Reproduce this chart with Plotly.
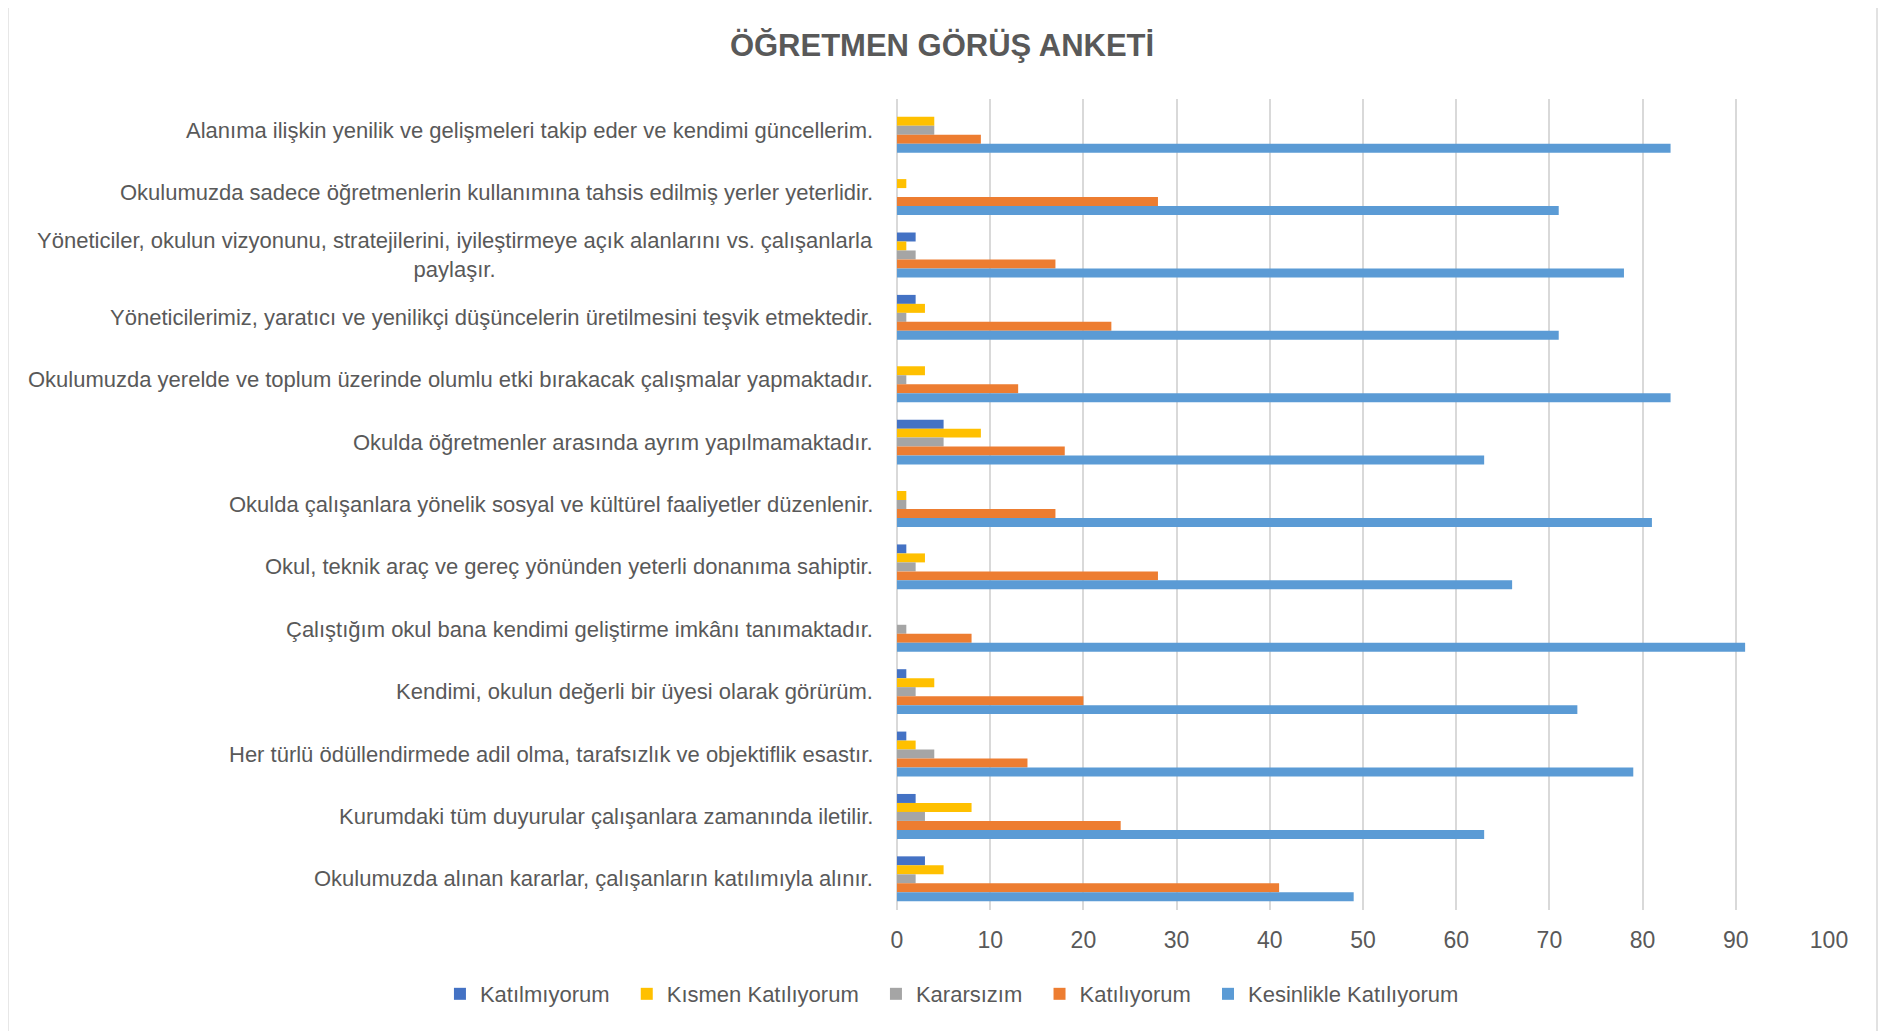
import plotly.graph_objects as go

categories = [
    "Alanıma ilişkin yenilik ve gelişmeleri takip eder ve kendimi güncellerim.",
    "Okulumuzda sadece öğretmenlerin kullanımına tahsis edilmiş yerler yeterlidir.",
    "Yöneticiler, okulun vizyonunu, stratejilerini, iyileştirmeye açık alanlarını vs. çalışanlarla<br>paylaşır.",
    "Yöneticilerimiz, yaratıcı ve yenilikçi düşüncelerin üretilmesini teşvik etmektedir.",
    "Okulumuzda yerelde ve toplum üzerinde olumlu etki bırakacak çalışmalar yapmaktadır.",
    "Okulda öğretmenler arasında ayrım yapılmamaktadır.",
    "Okulda çalışanlara yönelik sosyal ve kültürel faaliyetler düzenlenir.",
    "Okul, teknik araç ve gereç yönünden yeterli donanıma sahiptir.",
    "Çalıştığım okul bana kendimi geliştirme imkânı tanımaktadır.",
    "Kendimi, okulun değerli bir üyesi olarak görürüm.",
    "Her türlü ödüllendirmede adil olma, tarafsızlık ve objektiflik esastır.",
    "Kurumdaki tüm duyurular çalışanlara zamanında iletilir.",
    "Okulumuzda alınan kararlar, çalışanların katılımıyla alınır.",
]

katilmiyorum = [0, 0, 2, 2, 0, 5, 0, 1, 0, 1, 1, 2, 3]
kismen = [4, 1, 1, 3, 3, 9, 1, 3, 0, 4, 2, 8, 5]
kararsizim = [4, 0, 2, 1, 1, 5, 1, 2, 1, 2, 4, 3, 2]
katiliyorum = [9, 28, 17, 23, 13, 18, 17, 28, 8, 20, 14, 24, 41]
kesinlikle = [83, 71, 78, 71, 83, 63, 81, 66, 91, 73, 79, 63, 49]

series_names = ["Katılmıyorum", "Kısmen Katılıyorum", "Kararsızım", "Katılıyorum", "Kesinlikle Katılıyorum"]
series_values = [katilmiyorum, kismen, kararsizim, katiliyorum, kesinlikle]
colors = ["#4472C4", "#FFC000", "#A5A5A5", "#ED7D31", "#5B9BD5"]

x_ticks = list(range(0, 101, 10))

FONT = "Liberation Sans"
TXT = "#595959"
PAD = "\u00a0\u00a0"

fig = go.Figure()
for i, (name, vals, col) in enumerate(zip(series_names, series_values, colors)):
    fig.add_trace(go.Bar(
        y=categories, x=vals, name=name + (PAD if i < len(series_names) - 1 else ""),
        orientation="h", hovertemplate=name + ": %{x}<extra></extra>",
        marker=dict(color=col, line=dict(width=0)),
    ))

for cat in categories:
    fig.add_annotation(
        x=0, xref="paper", y=cat, yref="y", xanchor="right", xshift=-22,
        text=cat, showarrow=False, align="center",
        font=dict(family=FONT, size=22, color=TXT),
    )

fig.add_shape(type="rect", xref="paper", yref="paper",
              x0=-0.954, x1=1.0515, y0=-0.16, y1=1.1208,
              line=dict(color="#d9d9d9", width=1.5), layer="below")

fig.update_layout(
    width=1885, height=1023,
    paper_bgcolor="white", plot_bgcolor="white",
    margin=dict(l=889, r=64, t=91, b=121, autoexpand=False),
    barmode="group", bargap=0.28, bargroupgap=0,
    title=dict(text="<b>ÖĞRETMEN GÖRÜŞ ANKETİ</b>", xref="container", x=0.4955, xanchor="center",
               y=0.964, yanchor="middle", font=dict(family=FONT, size=31, color=TXT)),
    xaxis=dict(range=[0, 100], tickvals=x_ticks, showgrid=True, gridcolor="#d9d9d9", gridwidth=2,
               zeroline=True, zerolinecolor="#d9d9d9", zerolinewidth=2, showline=False,
               tickfont=dict(family=FONT, size=23, color=TXT), ticks="", ticklabelstandoff=14),
    yaxis=dict(type="category", autorange="reversed", showticklabels=False, showgrid=False,
               zeroline=False, showline=False, ticks=""),
    legend=dict(orientation="h", xref="paper", yref="paper", x=-0.4904, xanchor="left",
                y=-0.1036, yanchor="middle", font=dict(family=FONT, size=22, color=TXT),
                itemwidth=30, tracegroupgap=0),
    showlegend=True,
)

fig.write_html("out.html")
